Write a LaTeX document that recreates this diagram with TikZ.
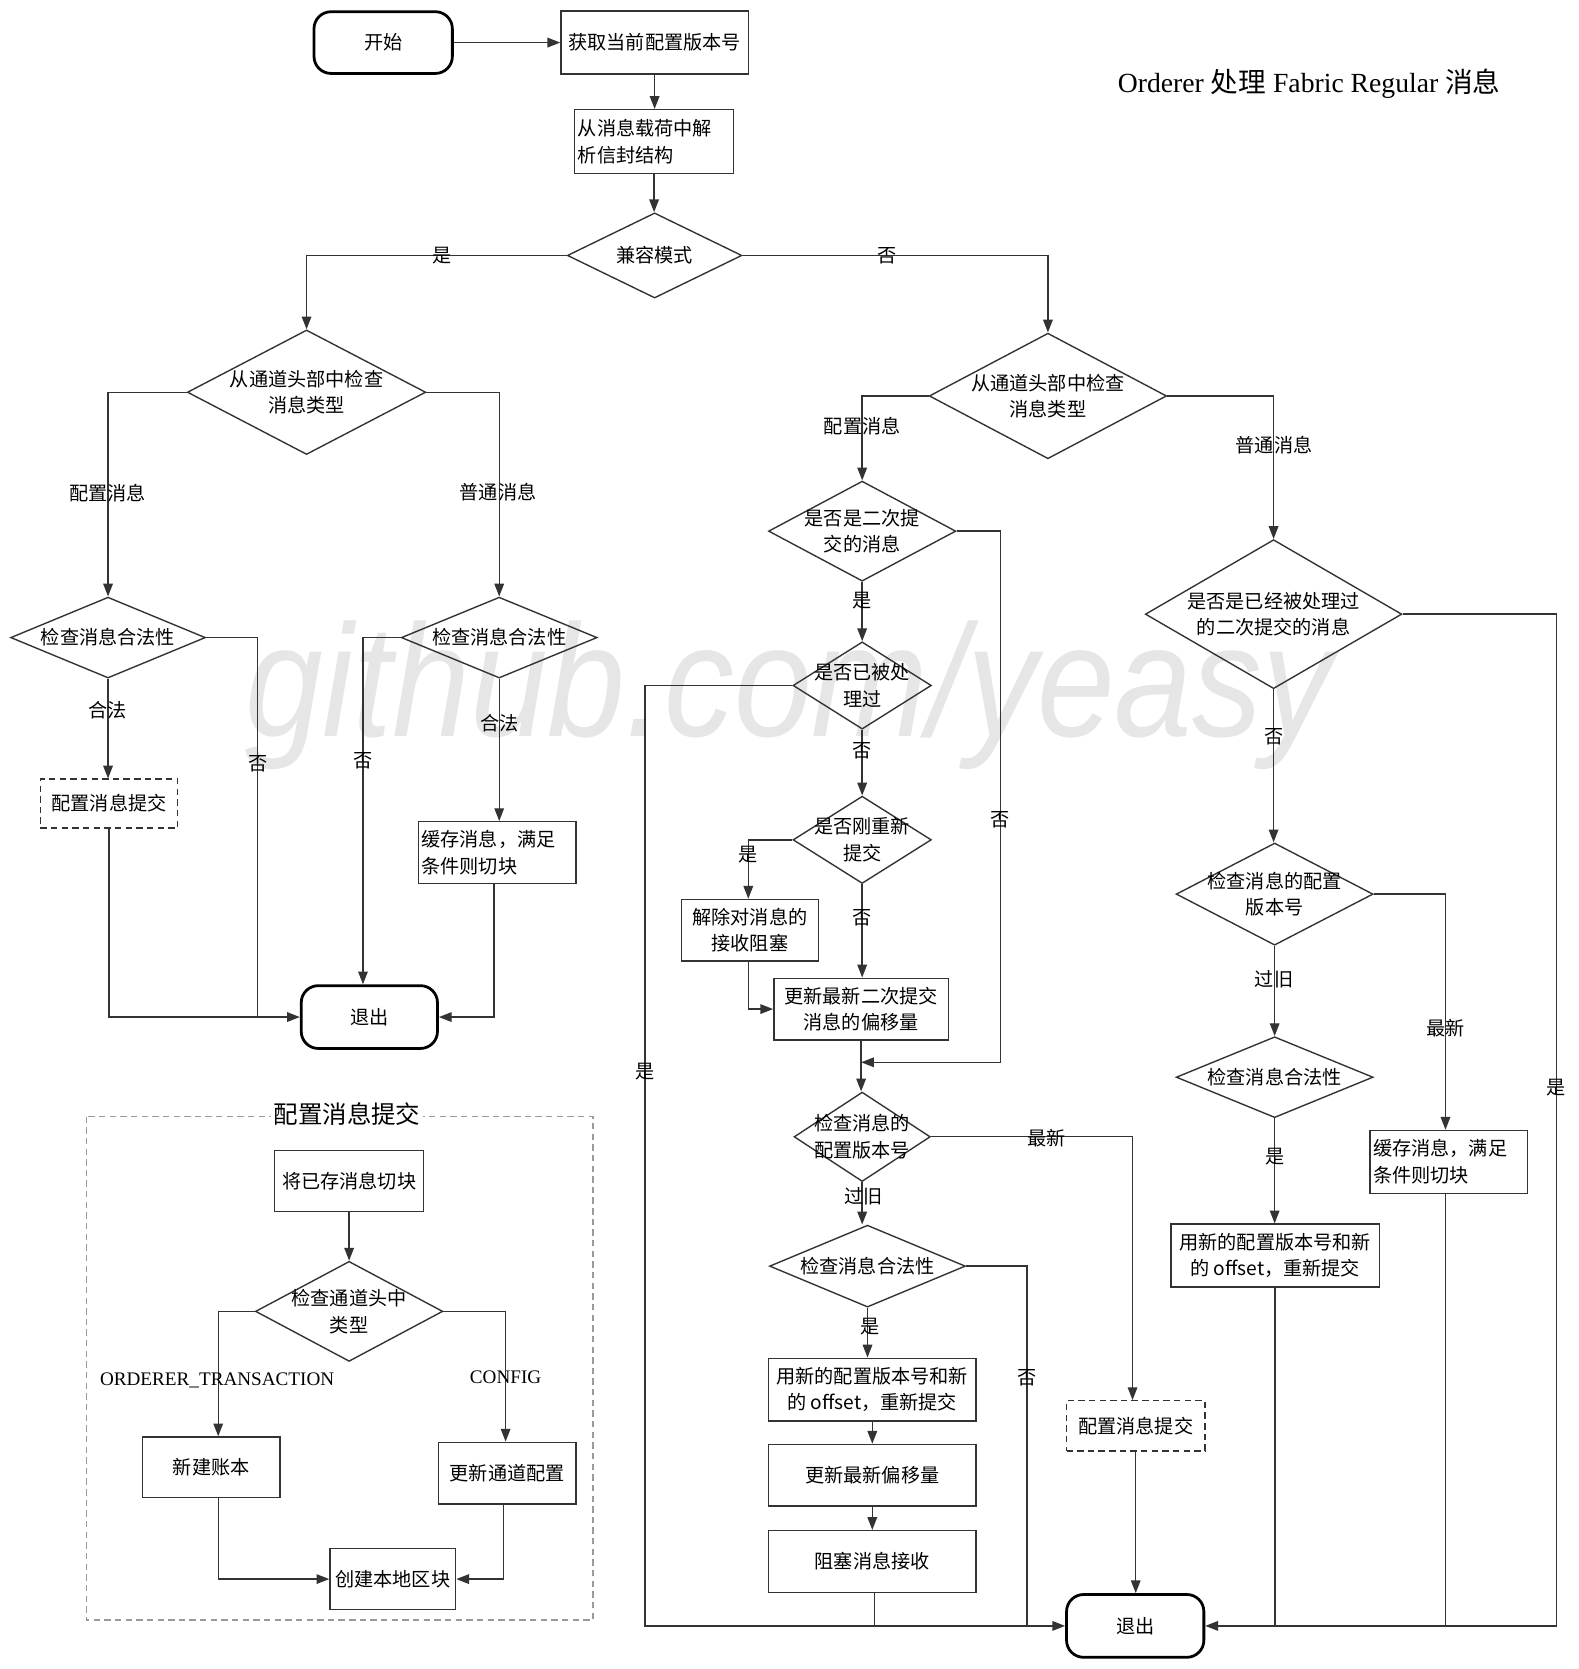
\documentclass[tikz,border=0pt]{standalone}
\usepackage{fontspec}
\setmainfont{Liberation Serif}
\newfontfamily\cjk{Noto Sans CJK SC}
\newfontfamily\wmfont{Liberation Sans}
\usetikzlibrary{shapes.geometric,arrows.meta}
\definecolor{ln}{HTML}{333333}
\definecolor{wm}{HTML}{E6E6E6}
\definecolor{dg}{HTML}{9A9A9A}
\tikzset{
  conn/.style={draw=ln, line width=1.3pt},
  arr/.style={conn, -{Triangle[length=12pt,width=9pt]}},
  box/.style={draw=ln, line width=1.3pt, rectangle, inner sep=3pt, font=\cjk\fontsize{18}{25}\selectfont, align=center},
  dbox/.style={box, dash pattern=on 6pt off 4pt},
  term/.style={draw=black, line width=2.6pt, rounded corners=16pt, rectangle, inner sep=3pt, font=\cjk\fontsize{18}{25}\selectfont, align=center},
  dia/.style={draw=ln, line width=1.3pt, diamond, inner sep=0pt},
  dtxt/.style={inner sep=0pt, font=\cjk\fontsize{18}{25}\selectfont, align=center},
  lbl/.style={inner sep=0pt, font=\cjk\fontsize{18}{22}\selectfont},
  elbl/.style={inner sep=0pt, font=\fontsize{18}{22}\selectfont},
}
\newcommand\mydia[5]{%
  \node[dia, minimum width=#3pt, minimum height=#4pt] (#1) at (#2) {};
  \node[dtxt] at (#1) {#5};}
\begin{document}
\begin{tikzpicture}[x=1pt,y=-1pt]
\useasboundingbox (0,0) rectangle (1483,1568);
\fill[white] (0,0) rectangle (1483,1568);
% watermark
\node[anchor=base west, inner sep=0pt, text=wm] (wmark) at (230,692)
  {\scalebox{0.875}[1]{\wmfont\itshape\fontsize{150}{150}\selectfont github.com/yeasy}};
% title
\node[inner sep=0pt, font=\fontsize{26}{30}\selectfont] (title) at (1230,79)
  {Orderer {\cjk 处理} Fabric Regular {\cjk 消息}};

% top
\node[term, minimum width=130pt, minimum height=58pt] (start) at (360,40) {开始};
\node[box, minimum width=176pt, minimum height=59pt] (get) at (615,40) {获取当前配置版本号};
\node[box, minimum height=60pt, text width=143pt, align=left] (parse) at (614.5,133) {从消息载荷中解\\析信封结构};
\mydia{compat}{615,240}{164}{80}{兼容模式}

% left part
\mydia{ldiam}{288,368.5}{224}{117}{从通道头部中检查\\消息类型}
\mydia{llcheck}{101.5,599}{183}{76}{检查消息合法性}
\mydia{lrcheck}{469,599}{184}{76}{检查消息合法性}
\node[dbox, minimum width=129pt, minimum height=46pt] (lcommit) at (102.5,755) {配置消息提交};
\node[box, minimum height=58pt, text width=142pt, align=left] (lcache) at (467,801) {缓存消息，满足\\条件则切块};
\node[term, minimum width=128pt, minimum height=59pt] (exit1) at (347,955.5) {退出};

% container
\draw[dg, line width=1.3pt, dash pattern=on 6pt off 4pt] (81,1049) rectangle (557,1522);
\node[fill=white, inner sep=2pt, font=\cjk\fontsize{23}{23}\selectfont] (ctitle) at (326,1047) {配置消息提交};
\node[box, minimum width=140pt, minimum height=57pt] (cut) at (328,1109.5) {将已存消息切块};
\mydia{ctype}{328,1232}{176}{94}{检查通道头中\\类型}
\node[box, minimum width=129pt, minimum height=57pt] (newledger) at (198.5,1378.5) {新建账本};
\node[box, minimum width=129pt, minimum height=58pt] (updcfg) at (476.5,1384) {更新通道配置};
\node[box, minimum width=118pt, minimum height=57pt] (createblk) at (369,1483.5) {创建本地区块};

% middle part
\mydia{rdiam}{984.5,372}{223}{118}{从通道头部中检查\\消息类型}
\mydia{sec}{810,499}{176}{94}{是否是二次提\\交的消息}
\mydia{proc}{810,644}{130}{82}{是否已被处\\理过}
\mydia{resub}{810,789}{130}{82}{是否刚重新\\提交}
\node[box, minimum width=129pt, minimum height=58pt] (unblock) at (704.5,874) {解除对消息的\\接收阻塞};
\node[box, minimum width=164pt, minimum height=58pt] (updsec) at (809,948) {更新最新二次提交\\消息的偏移量};
\mydia{cfgver}{810,1068}{128}{84}{检查消息的\\配置版本号}
\mydia{mcheck}{815,1189.5}{184}{77}{检查消息合法性}
\node[box, minimum width=195pt, minimum height=59pt] (resubmit) at (819.5,1305.5) {用新的配置版本号和新\\的 offset，重新提交};
\node[box, minimum width=195pt, minimum height=58pt] (updoff) at (819.5,1386) {更新最新偏移量};
\node[box, minimum width=195pt, minimum height=58pt] (block) at (819.5,1467) {阻塞消息接收};
\node[dbox, minimum width=130pt, minimum height=47pt] (mcommit) at (1067,1339.5) {配置消息提交};
\node[term, minimum width=129pt, minimum height=59pt] (exit2) at (1066.5,1527.5) {退出};

% right part
\mydia{rsec}{1196.5,577}{241}{140}{是否是已经被处理过\\的二次提交的消息}
\mydia{rcfgver}{1197.5,840}{185}{96}{检查消息的配置\\版本号}
\mydia{rcheck}{1197.5,1012}{185}{76}{检查消息合法性}
\node[box, minimum width=196pt, minimum height=59pt] (rresub) at (1198,1179.5) {用新的配置版本号和新\\的 offset，重新提交};
\node[box, minimum height=59pt, text width=142pt, align=left] (rcache) at (1361,1091.5) {缓存消息，满足\\条件则切块};

% coordinates
\coordinate (j1) at (242,955.5);
\coordinate (e1n) at ([xshift=-6pt]exit1.north);
\coordinate (j2) at (940,998);
\coordinate (j3) at (606,1527.5);
\coordinate (j4) at (965,1527.5);
\coordinate (j5) at (1462,1527.5);

% connectors top
\draw[arr] (start.east) -- (get.west);
\draw[arr] (get.south) -- (get.south |- parse.north);
\draw[arr] (parse.south) -- (parse.south |- compat.north);
\draw[arr] (compat.west) -| (ldiam.north);
\draw[arr] (compat.east) -| (rdiam.north);

% connectors left
\draw[arr] (ldiam.west) -| (llcheck.north);
\draw[arr] (ldiam.east) -| (lrcheck.north);
\draw[arr] (llcheck.south) -- (llcheck.south |- lcommit.north);
\draw[conn] (llcheck.east) -| (j1);
\draw[arr] (lcommit.south) |- (exit1.west);
\draw[arr] (lrcheck.west) -| (e1n);
\draw[arr] (lrcheck.south) -- (lrcheck.south |- lcache.north);
\draw[arr] ([xshift=-3pt]lcache.south) |- (exit1.east);

% container connectors
\draw[arr] (cut.south) -- (cut.south |- ctype.north);
\draw[arr] (ctype.west) -| ([xshift=6.5pt]newledger.north);
\draw[arr] (ctype.east) -| ([xshift=-1.5pt]updcfg.north);
\draw[arr] ([xshift=6.5pt]newledger.south) |- (createblk.west);
\draw[arr] ([xshift=-3.5pt]updcfg.south) |- (createblk.east);

% middle connectors
\draw[arr] (rdiam.west) -| (sec.north);
\draw[arr] (rdiam.east) -| (rsec.north);
\draw[arr] (sec.east) -| (j2) -- (updsec.south |- j2);
\draw[arr] (sec.south) -- (proc.north);
\draw[arr] (proc.west) -| (j3) -- (exit2.west);
\draw[arr] (proc.south) -- (resub.north);
\draw[arr] (resub.west) -| ([xshift=-1.5pt]unblock.north);
\draw[arr] (resub.south) -- (resub.south |- updsec.north);
\draw[arr] ([xshift=-1.5pt]unblock.south) |- (updsec.west);
\draw[arr] (updsec.south) -- (updsec.south |- cfgver.north);
\draw[arr] (cfgver.east) -| ([xshift=-3pt]mcommit.north);
\draw[arr] (cfgver.south) -- (cfgver.south |- mcheck.north);
\draw[conn] (mcheck.east) -| (j4);
\draw[arr] (mcheck.south) -- (mcheck.south |- resubmit.north);
\draw[arr] (resubmit.south) -- (updoff.north);
\draw[arr] (updoff.south) -- (block.north);
\draw[conn] ([xshift=2pt]block.south) -- ([xshift=2pt]block.south |- j3);
\draw[arr] (mcommit.south) -- (mcommit.south |- exit2.north);

% right connectors
\draw[arr] (rsec.east) -| (j5) -- (exit2.east);
\draw[arr] (rsec.south) -- (rsec.south |- rcfgver.north);
\draw[arr] (rcfgver.east) -| ([xshift=-3pt]rcache.north);
\draw[arr] (rcfgver.south) -- (rcfgver.south |- rcheck.north);
\draw[arr] (rcheck.south) -- (rcheck.south |- rresub.north);
\draw[conn] (rresub.south) -- (rresub.south |- j5);
\draw[conn] ([xshift=-3pt]rcache.south) -- ([xshift=-3pt]rcache.south |- j5);

% edge labels
\node[lbl] at (415,240) {是};
\node[lbl] at (833,240) {否};
\node[lbl] at (101,463) {配置消息};
\node[lbl] at (468,462) {普通消息};
\node[lbl] at (101,667) {合法};
\node[lbl] at (242,718) {否};
\node[lbl] at (341,715) {否};
\node[lbl] at (469,679) {合法};
\node[elbl] at (204,1297) {ORDERER\_TRANSACTION};
\node[elbl] at (475,1294) {CONFIG};
\node[lbl] at (810,400) {配置消息};
\node[lbl] at (1197,418) {普通消息};
\node[lbl] at (810,564) {是};
\node[lbl] at (810,705) {否};
\node[lbl] at (703,803) {是};
\node[lbl] at (810,862) {否};
\node[lbl] at (940,770) {否};
\node[lbl] at (606,1007) {是};
\node[lbl] at (983,1069) {最新};
\node[lbl] at (811,1124) {过旧};
\node[lbl] at (817,1246) {是};
\node[lbl] at (965,1294) {否};
\node[lbl] at (1197,692) {否};
\node[lbl] at (1358,966) {最新};
\node[lbl] at (1197,920) {过旧};
\node[lbl] at (1198,1087) {是};
\node[lbl] at (1462,1022) {是};
\end{tikzpicture}
\end{document}
